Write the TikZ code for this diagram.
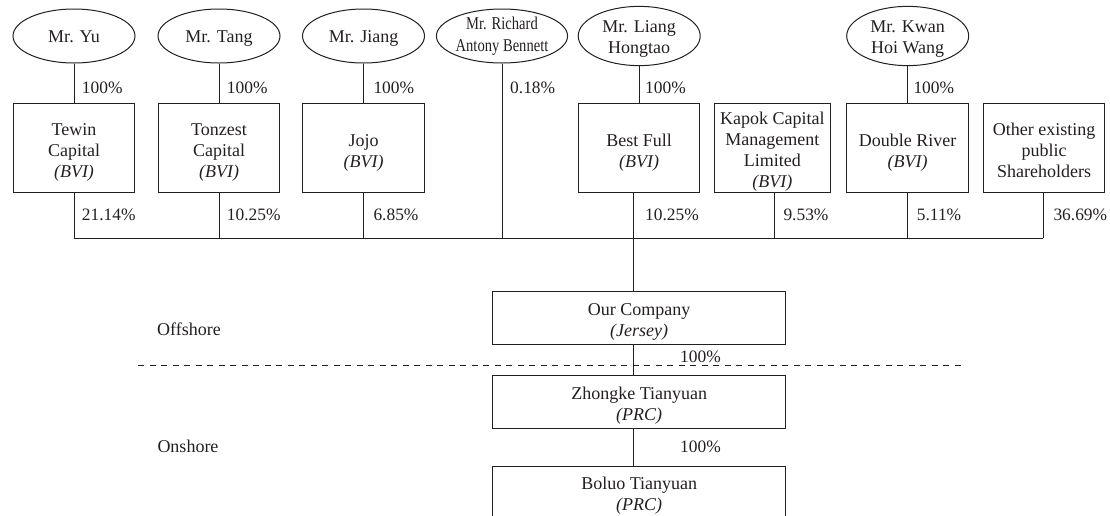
\documentclass[tikz,border=0pt]{standalone}
\usepackage{fontspec}
\setmainfont{Liberation Serif}
\usetikzlibrary{shapes.geometric}
\definecolor{ink}{RGB}{35,31,32}
\tikzset{
  txt/.style={font=\fontsize{18}{21}\selectfont, text=ink, inner sep=0pt, align=center},
  pct/.style={font=\fontsize{17.4}{20}\selectfont, text=ink, inner sep=0pt, anchor=west},
  person/.style={txt, ellipse, draw=ink, line width=1pt, minimum width=122pt, minimum height=54pt},
  oneline/.style={text height=12.5pt, text depth=0pt},
  holder/.style={txt, rectangle, draw=ink, line width=1pt, minimum width=121.5pt, minimum height=89.4pt},
  entity/.style={txt, rectangle, draw=ink, line width=1pt, minimum width=293pt, minimum height=52.6pt},
  link/.style={draw=ink, line width=1pt},
  sep/.style={draw=ink, line width=1pt, dash pattern=on 6pt off 5.5pt},
}
\newcommand{\narrow}[1]{\scalebox{0.81}[1]{#1}}
\newcommand{\topfix}[1][20.5pt]{\rule{0pt}{#1}}
\begin{document}
\begin{tikzpicture}[x=1pt,y=-1pt]
\useasboundingbox (0,0) rectangle (1110,515);
% persons
\node[person, oneline] (yu)    at (74,36)    {Mr. Yu};
\node[person, oneline] (tang)  at (219,36)   {Mr. Tang};
\node[person, oneline] (jiang) at (363.5,36) {Mr. Jiang};
\node[person] (rich)  at (502,36)   {\narrow{Mr. Richard}\\[0.7pt]\narrow{Antony Bennett}};
\node[person] (liang) at (639.2,36) {\topfix[17pt]Mr. Liang\\Hongtao};
\node[person] (kwan)  at (907.7,36) {\topfix[17pt]Mr. Kwan\\Hoi Wang};
% holders
\node[holder] (tewin)   at (74,148)    {\topfix Tewin\\Capital\\\textit{(BVI)}};
\node[holder] (tonzest) at (219,148)   {\topfix Tonzest\\Capital\\\textit{(BVI)}};
\node[holder] (jojo)    at (363.5,148) {\topfix[22pt]Jojo\\\textit{(BVI)}};
\node[holder] (best)    at (639.2,148) {\topfix[22pt]Best Full\\\textit{(BVI)}};
\node[holder, minimum width=116.7pt] (kapok) at (772.4,148) {\topfix Kapok Capital\\Management\\Limited\\\textit{(BVI)}};
\node[holder] (double)  at (907.7,148) {\topfix[22pt]Double River\\\textit{(BVI)}};
\node[holder] (other)   at (1044.2,148) {\topfix[18pt]Other existing\\public\\Shareholders};
% group entities
\node[entity] (ourco)  at (639.2,318)   {\topfix[19pt]Our Company\\\textit{(Jersey)}};
\node[entity] (zk)     at (639.2,402)   {\topfix[19pt]Zhongke Tianyuan\\\textit{(PRC)}};
\node[entity] (boluo)  at (639.2,492.3) {\topfix[19pt]Boluo Tianyuan\\\textit{(PRC)}};
% helper coordinates
\coordinate (bus) at (0,238.3);
\coordinate (trunk) at (633.3,238.3);
\coordinate (kapokx) at (774,0);
\coordinate (otherx) at (1043.3,0);
\coordinate (dashL) at (138.3,365.5);
\coordinate (dashR) at (965,365.5);
% person to holder
\draw[link] (yu.south) -- (tewin.north);
\draw[link] (tang.south) -- (tonzest.north);
\draw[link] (jiang.south) -- (jojo.north);
\draw[link] (liang.south) -- (best.north);
\draw[link] (kwan.south) -- (double.north);
% holders to bus
\draw[link] (tewin.south) -- (tewin.south |- bus);
\draw[link] (tonzest.south) -- (tonzest.south |- bus);
\draw[link] (jojo.south) -- (jojo.south |- bus);
\draw[link] (rich.south) -- (rich.south |- bus);
\draw[link] (kapok.south -| kapokx) -- (bus -| kapokx);
\draw[link] (double.south) -- (double.south |- bus);
\draw[link] (other.south -| otherx) -- (bus -| otherx);
\draw[link] (tewin.south |- bus) -- (bus -| otherx);
% trunk
\draw[link] (best.south -| trunk) -- (ourco.north -| trunk);
\draw[link] (ourco.south -| trunk) -- (zk.north -| trunk);
\draw[link] (zk.south -| trunk) -- (boluo.north -| trunk);
% offshore / onshore separator
\draw[sep] (dashL) -- (dashR);
% percentages
\node[pct] (p1) at (81.7,88.3)  {100\%};
\node[pct] (p2) at (226.7,88.3) {100\%};
\node[pct] (p3) at (373.3,88.3) {100\%};
\node[pct] (p4) at (510,88.3)   {0.18\%};
\node[pct] (p5) at (645,88.3)   {100\%};
\node[pct] (p6) at (913.3,88.3) {100\%};
\node[pct] (q1) at (81.7,215)   {21.14\%};
\node[pct] (q2) at (226.7,215)  {10.25\%};
\node[pct] (q3) at (373.3,215)  {6.85\%};
\node[pct] (q4) at (645,215)    {10.25\%};
\node[pct] (q5) at (783.3,215)  {9.53\%};
\node[pct] (q6) at (916.7,215)  {5.11\%};
\node[pct] (q7) at (1053.3,215) {36.69\%};
\node[pct] (r1) at (680,356.7)  {100\%};
\node[pct] (r2) at (680,446.7)  {100\%};
% region labels
\node[txt, anchor=west] (off) at (157,329.3) {Offshore};
\node[txt, anchor=west] (on)  at (157.3,446) {Onshore};
\end{tikzpicture}
\end{document}
